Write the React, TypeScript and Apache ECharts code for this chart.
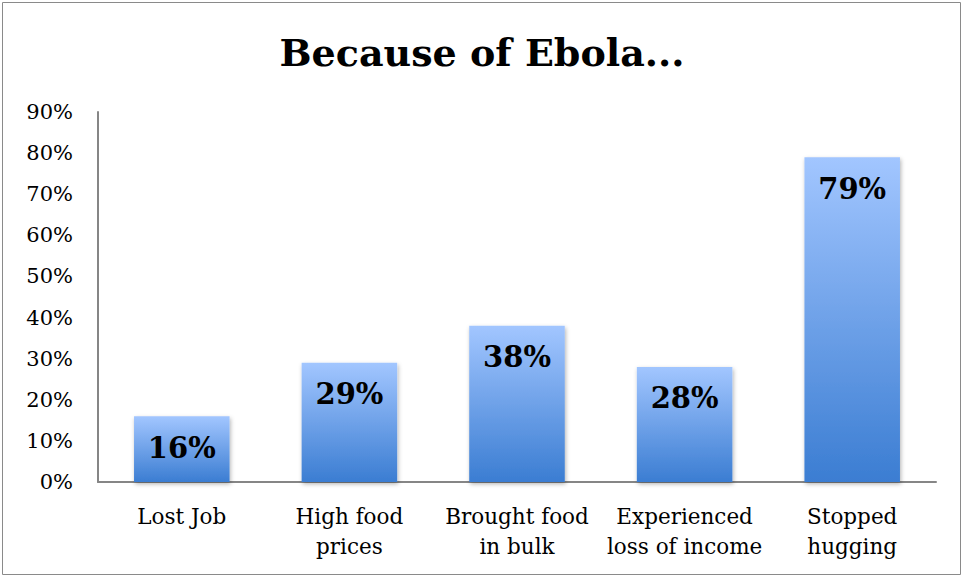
import React, { useEffect, useRef } from "react";
import * as echarts from "echarts";

const categories = ["Lost Job", "High food\nprices", "Brought food\nin bulk", "Experienced\nloss of income", "Stopped\nhugging"];
const values = [16, 29, 38, 28, 79];
const yTicks = [0, 10, 20, 30, 40, 50, 60, 70, 80, 90];

const FONT = "'DejaVu Serif', 'Liberation Serif', serif";

export default function App() {
  const ref = useRef<HTMLDivElement>(null);
  useEffect(() => {
    document.body.style.margin = "0";
    const chart = echarts.init(ref.current!, null, { renderer: "svg" });
    chart.setOption({
      animation: false,
      backgroundColor: "#ffffff",
      title: {
        text: "Because of Ebola...",
        left: "center",
        top: 28,
        textStyle: { fontFamily: FONT, fontWeight: "bold", fontSize: 38, color: "#000" },
      },
      graphic: [
        {
          type: "rect",
          shape: { x: 2.5, y: 2.5, width: 958, height: 572 },
          style: { fill: "none", stroke: "#8a8a8a", lineWidth: 1 },
          silent: true,
        },
      ],
      grid: { left: 98, right: 28, top: 112, bottom: 96, containLabel: false },
      xAxis: {
        type: "category",
        data: categories,
        axisLine: { lineStyle: { color: "#868686", width: 2 } },
        axisTick: { show: false },
        axisLabel: {
          fontFamily: FONT,
          fontSize: 21.5,
          color: "#000",
          lineHeight: 30,
          margin: 19,
          interval: 0,
        },
      },
      yAxis: {
        type: "value",
        min: 0,
        max: 90,
        interval: 10,
        axisLine: { show: true, lineStyle: { color: "#868686", width: 2 } },
        axisTick: { show: false },
        splitLine: { show: false },
        axisLabel: {
          fontFamily: FONT,
          fontSize: 21,
          color: "#000",
          margin: 25,
          formatter: (v: number) => (yTicks.includes(v) ? v + "%" : ""),
        },
      },
      series: [
        {
          type: "bar",
          data: values,
          barWidth: "57%",
          itemStyle: {
            color: new echarts.graphic.LinearGradient(0, 0, 0, 1, [
              { offset: 0, color: "#a2c6ff" },
              { offset: 1, color: "#3b7dd2" },
            ]),
            shadowColor: "rgba(0,0,0,0.3)",
            shadowBlur: 4,
            shadowOffsetX: 1,
            shadowOffsetY: 2,
          },
          label: {
            show: true,
            position: "insideTop",
            distance: 17,
            formatter: "{c}%",
            fontFamily: FONT,
            fontWeight: "bold",
            fontSize: 29,
            color: "#000",
          },
        },
      ],
    });
    return () => chart.dispose();
  }, []);
  return <div ref={ref} style={{ width: 964, height: 578 }} />;
}
